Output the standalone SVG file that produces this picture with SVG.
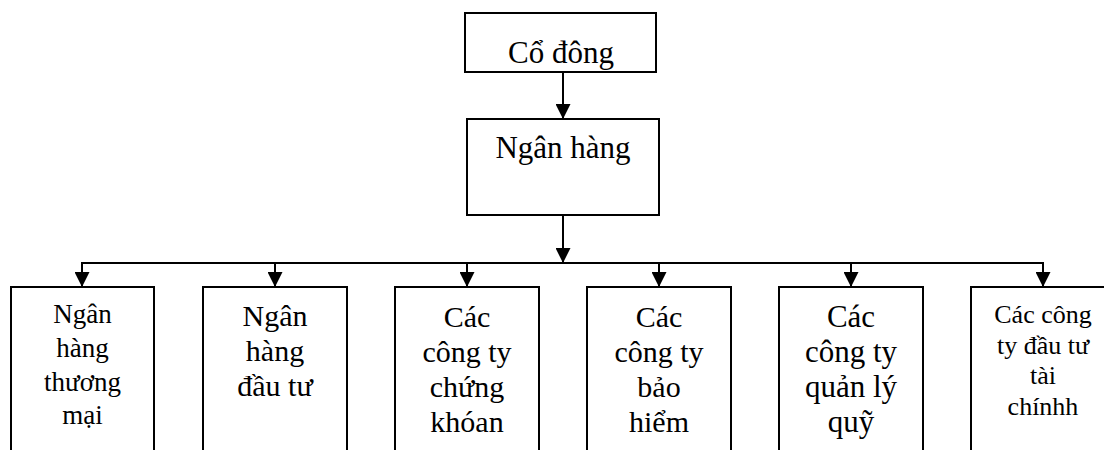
<svg xmlns="http://www.w3.org/2000/svg" width="1104" height="450" viewBox="0 0 1104 450">
  <style>
    .box { fill: #ffffff; stroke: #000000; stroke-width: 2; }
    .wire { fill: none; stroke: #000000; stroke-width: 2; }
    .lbl { font-family: 'Liberation Serif', serif; fill: #000000; text-anchor: middle; }
    .t31 { font-size: 31px; }
    .t30 { font-size: 30px; }
    .t27 { font-size: 27px; }
    .t26 { font-size: 26px; }
  </style>
  <defs>
    <marker id="arrow" viewBox="0 0 15 15" refX="15" refY="7.5" markerWidth="15" markerHeight="15" markerUnits="userSpaceOnUse" orient="auto">
      <path d="M0,0 L15,7.5 L0,15 Z" fill="#000000"/>
    </marker>
  </defs>

  <rect width="1104" height="450" fill="#ffffff"/>

  <!-- connectors -->
  <g id="connectors">
    <line class="wire" x1="563" y1="72" x2="563" y2="119" marker-end="url(#arrow)"/>
    <line class="wire" x1="563" y1="215" x2="563" y2="263" marker-end="url(#arrow)"/>
    <line class="wire" x1="82" y1="263" x2="1043" y2="263"/>
    <line class="wire" x1="82" y1="262" x2="82" y2="287" marker-end="url(#arrow)"/>
    <line class="wire" x1="275" y1="263" x2="275" y2="287" marker-end="url(#arrow)"/>
    <line class="wire" x1="467" y1="263" x2="467" y2="287" marker-end="url(#arrow)"/>
    <line class="wire" x1="659" y1="263" x2="659" y2="287" marker-end="url(#arrow)"/>
    <line class="wire" x1="851" y1="263" x2="851" y2="287" marker-end="url(#arrow)"/>
    <line class="wire" x1="1043" y1="262" x2="1043" y2="287" marker-end="url(#arrow)"/>
  </g>

  <!-- shareholders -->
  <g id="co-dong">
    <rect class="box" x="465" y="13" width="191" height="59"/>
    <text class="lbl t31" x="561" y="63">Cổ đông</text>
  </g>

  <!-- parent bank -->
  <g id="ngan-hang">
    <rect class="box" x="467" y="119" width="192" height="96"/>
    <text class="lbl t31" x="563" y="158">Ngân hàng</text>
  </g>

  <!-- subsidiaries -->
  <g id="ngan-hang-thuong-mai">
    <rect class="box" x="11" y="287" width="143" height="180"/>
    <text class="lbl t27" x="82.5" y="323">Ngân</text>
    <text class="lbl t27" x="82.5" y="357">hàng</text>
    <text class="lbl t27" x="82.5" y="391">thương</text>
    <text class="lbl t27" x="82.5" y="424">mại</text>
  </g>

  <g id="ngan-hang-dau-tu">
    <rect class="box" x="203" y="287" width="144" height="180"/>
    <text class="lbl t30" x="275" y="326">Ngân</text>
    <text class="lbl t30" x="275" y="361">hàng</text>
    <text class="lbl t30" x="275" y="396">đầu tư</text>
  </g>

  <g id="cong-ty-chung-khoan">
    <rect class="box" x="395" y="287" width="144" height="180"/>
    <text class="lbl t30" x="467" y="327">Các</text>
    <text class="lbl t30" x="467" y="362">công ty</text>
    <text class="lbl t30" x="467" y="397">chứng</text>
    <text class="lbl t30" x="467" y="432">khóan</text>
  </g>

  <g id="cong-ty-bao-hiem">
    <rect class="box" x="587" y="287" width="144" height="180"/>
    <text class="lbl t30" x="659" y="327">Các</text>
    <text class="lbl t30" x="659" y="362">công ty</text>
    <text class="lbl t30" x="659" y="397">bảo</text>
    <text class="lbl t30" x="659" y="432">hiểm</text>
  </g>

  <g id="cong-ty-quan-ly-quy">
    <rect class="box" x="779" y="287" width="144" height="180"/>
    <text class="lbl t31" x="851" y="327">Các</text>
    <text class="lbl t31" x="851" y="362">công ty</text>
    <text class="lbl t31" x="851" y="397">quản lý</text>
    <text class="lbl t31" x="851" y="432">quỹ</text>
  </g>

  <g id="cong-ty-dau-tu-tai-chinh">
    <rect class="box" x="971" y="287" width="144" height="180"/>
    <text class="lbl t26" x="1043" y="323">Các công</text>
    <text class="lbl t26" x="1043" y="354">ty đầu tư</text>
    <text class="lbl t26" x="1043" y="384">tài</text>
    <text class="lbl t26" x="1043" y="415">chínhh</text>
  </g>
</svg>
